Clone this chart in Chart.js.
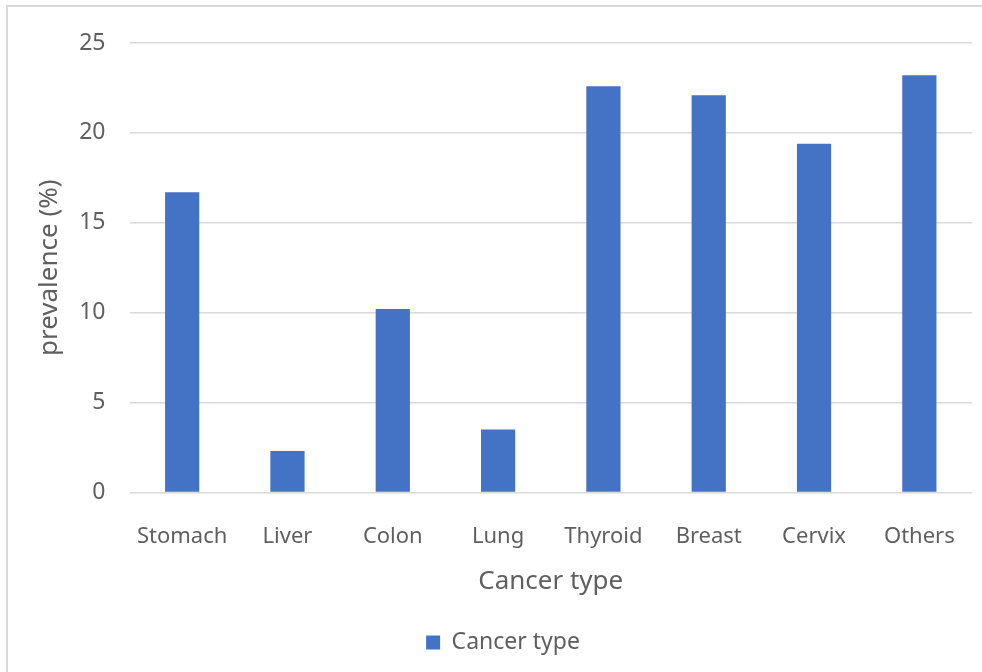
<!DOCTYPE html>
<html>
<head>
<meta charset="utf-8">
<script src="https://cdn.jsdelivr.net/npm/chart.js@4"></script>
<style>
  html, body { margin: 0; padding: 0; background: #fff; }
  #wrap {
    position: absolute; left: 6px; top: 5px; width: 976px; height: 667px;
    border-top: 2px solid #d9d9d9; border-left: 2px solid #d9d9d9;
    box-sizing: border-box;
  }
  #chart { position: absolute; left: 0; top: 0; }
</style>
</head>
<body>
<div id="wrap"></div>
<canvas id="chart" width="982" height="672"></canvas>
<script>
// categories and prevalence (%)
const categories = ['Stomach', 'Liver', 'Colon', 'Lung', 'Thyroid', 'Breast', 'Cervix', 'Others'];
const prevalence = [16.7, 2.3, 10.2, 3.5, 22.6, 22.1, 19.4, 23.2];
const yTicks = [0, 5, 10, 15, 20, 25];

const fontFamily = "'Noto Sans', 'Open Sans', sans-serif";
const textColor = '#5f5f5f';

const ctx = document.getElementById('chart').getContext('2d');
new Chart(ctx, {
    type: 'bar',
    data: {
        labels: categories,
        datasets: [{
            label: 'Cancer type',
            data: prevalence,
            backgroundColor: '#4472C4',
            barPercentage: 0.65,
            categoryPercentage: 0.5
        }]
    },
    options: {
        responsive: false,
        animation: false,
        layout: { padding: { left: 34, right: 10, top: 43, bottom: 8 } },
        plugins: {
            tooltip: { enabled: false },
            legend: {
                position: 'bottom',
                labels: {
                    color: textColor,
                    font: { family: fontFamily, size: 23 },
                    boxWidth: 14,
                    boxHeight: 14,
                    padding: 12
                }
            }
        },
        scales: {
            x: {
                grid: { display: false },
                border: { display: false },
                ticks: {
                    color: textColor,
                    font: { family: fontFamily, size: 22 },
                    padding: 23
                },
                title: {
                    display: true,
                    text: 'Cancer type',
                    color: textColor,
                    font: { family: fontFamily, size: 26 },
                    padding: { top: -7, bottom: 22 }
                }
            },
            y: {
                min: 0,
                max: 25,
                afterBuildTicks: axis => { axis.ticks = yTicks.map(v => ({ value: v })); },
                grid: { color: '#d9d9d9', lineWidth: 1.5, drawTicks: false },
                border: { display: false },
                ticks: {
                    color: textColor,
                    font: { family: fontFamily, size: 23 },
                    padding: 24
                },
                title: {
                    display: true,
                    text: 'prevalence (%)',
                    color: textColor,
                    font: { family: fontFamily, size: 26 },
                    padding: { top: 0, bottom: -10 }
                }
            }
        }
    }
});
</script>
</body>
</html>
